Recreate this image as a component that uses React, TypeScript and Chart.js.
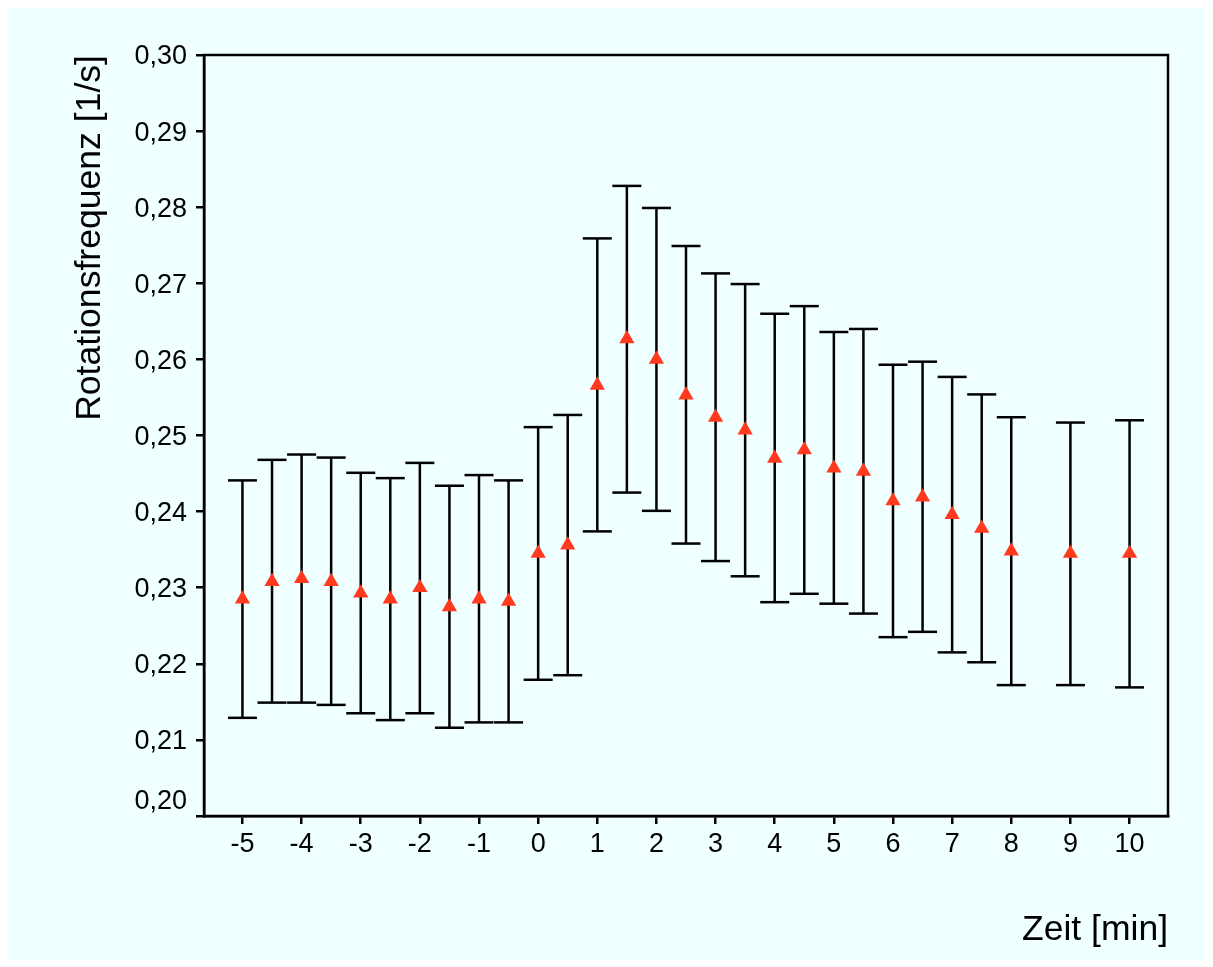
import React, { useEffect, useRef } from 'react';
import { Chart, registerables } from 'chart.js';

Chart.register(...registerables);

// Zeitpunkte [min]
const timePoints = [-5, -4.5, -4, -3.5, -3, -2.5, -2, -1.5, -1, -0.5, 0, 0.5, 1, 1.5, 2, 2.5, 3, 3.5, 4, 4.5, 5, 5.5, 6, 6.5, 7, 7.5, 8, 9, 10];

// Mittelwerte der Rotationsfrequenz [1/s]
const meanValues = [0.2285, 0.2308, 0.2312, 0.2308, 0.2293, 0.2285, 0.2300, 0.2275, 0.2285, 0.2282, 0.2345, 0.2356, 0.2566, 0.2627, 0.2600, 0.2553, 0.2524, 0.2507, 0.2470, 0.2481, 0.2457, 0.2453, 0.2414, 0.2419, 0.2396, 0.2378, 0.2348, 0.2345, 0.2345];

// Obere Fehlerbalken
const upperValues = [0.2441, 0.2468, 0.2475, 0.2471, 0.2451, 0.2444, 0.2464, 0.2434, 0.2448, 0.2441, 0.2511, 0.2527, 0.2759, 0.2828, 0.2799, 0.2749, 0.2713, 0.2699, 0.2660, 0.2670, 0.2636, 0.2640, 0.2593, 0.2597, 0.2577, 0.2554, 0.2524, 0.2517, 0.2520];

// Untere Fehlerbalken
const lowerValues = [0.2129, 0.2149, 0.2149, 0.2146, 0.2135, 0.2126, 0.2135, 0.2116, 0.2123, 0.2123, 0.2179, 0.2185, 0.2374, 0.2425, 0.2401, 0.2358, 0.2335, 0.2315, 0.2281, 0.2292, 0.2279, 0.2266, 0.2235, 0.2242, 0.2215, 0.2202, 0.2172, 0.2172, 0.2169];

const xTickValues = [-5, -4, -3, -2, -1, 0, 1, 2, 3, 4, 5, 6, 7, 8, 9, 10];
const yTickValues = [0.20, 0.21, 0.22, 0.23, 0.24, 0.25, 0.26, 0.27, 0.28, 0.29, 0.30];

const FONT = "'Liberation Sans', Arial, Helvetica, sans-serif";
const BG = '#F0FFFF';
const RED = '#FF3A1E';
const LW = 2.5;

const boxPlugin = {
  id: 'plotBox',
  afterDraw(chart: any) {
    const { ctx, chartArea } = chart;
    ctx.save();
    ctx.strokeStyle = '#000';
    ctx.lineWidth = LW;
    ctx.strokeRect(chartArea.left, chartArea.top, chartArea.right - chartArea.left, chartArea.bottom - chartArea.top);
    ctx.restore();
  },
};

export default function App() {
  const canvasRef = useRef<HTMLCanvasElement | null>(null);

  useEffect(() => {
    if (!canvasRef.current) return;

    const stems = timePoints.flatMap((t, i) => [
      { x: t, y: lowerValues[i] },
      { x: t, y: upperValues[i] },
      { x: t, y: null },
    ]);
    const upperCaps = timePoints.map((t, i) => ({ x: t, y: upperValues[i] }));
    const lowerCaps = timePoints.map((t, i) => ({ x: t, y: lowerValues[i] }));
    const means = timePoints.map((t, i) => ({ x: t, y: meanValues[i] }));

    const chart = new Chart(canvasRef.current, {
      type: 'scatter',
      data: {
        datasets: [
          {
            label: 'Mittelwert',
            data: means,
            pointStyle: 'triangle',
            pointRadius: 8.8,
            pointHoverRadius: 8.8,
            pointBackgroundColor: RED,
            pointBorderColor: RED,
            pointBorderWidth: 0,
            showLine: false,
            order: 0,
          },
          {
            label: 'Fehler',
            data: stems as any,
            showLine: true,
            spanGaps: false,
            borderColor: '#000',
            borderWidth: LW,
            pointRadius: 0,
            pointHoverRadius: 0,
            order: 2,
          },
          {
            label: 'oben',
            data: upperCaps,
            pointStyle: 'line',
            pointRadius: 14.5,
            pointHoverRadius: 14.5,
            pointBorderColor: '#000',
            pointBorderWidth: LW,
            showLine: false,
            order: 1,
          },
          {
            label: 'unten',
            data: lowerCaps,
            pointStyle: 'line',
            pointRadius: 14.5,
            pointHoverRadius: 14.5,
            pointBorderColor: '#000',
            pointBorderWidth: LW,
            showLine: false,
            order: 1,
          },
        ],
      },
      options: {
        animation: false,
        responsive: false,
        events: [],
        layout: { padding: { left: 61, top: 47, right: 37, bottom: 8 } },
        plugins: {
          legend: { display: false },
          tooltip: { enabled: false },
        },
        scales: {
          x: {
            type: 'linear',
            min: -5.65,
            max: 10.65,
            afterBuildTicks: (scale: any) => {
              scale.ticks = xTickValues.map((v) => ({ value: v }));
            },
            afterFit: (scale: any) => {
              scale.height = 136;
            },
            ticks: {
              color: '#000',
              font: { family: FONT, size: 27 },
              padding: 4,
              maxRotation: 0,
              autoSkip: false,
              callback: (v: any) => String(v),
            },
            grid: {
              drawOnChartArea: false,
              drawTicks: true,
              tickLength: 8,
              color: '#000',
              lineWidth: LW,
            },
            border: { display: true, color: '#000', width: LW },
            title: {
              display: true,
              text: 'Zeit [min]',
              align: 'end',
              color: '#000',
              font: { family: FONT, size: 35.5 },
              padding: 0,
            },
          },
          y: {
            type: 'linear',
            min: 0.2,
            max: 0.3,
            afterBuildTicks: (scale: any) => {
              scale.ticks = yTickValues.map((v) => ({ value: v }));
            },
            afterFit: (scale: any) => {
              scale.width = 135;
            },
            ticks: {
              color: '#000',
              font: { family: FONT, size: 27 },
              padding: 9,
              labelOffset: 2,
              autoSkip: false,
              callback: (v: any) => {
                const s = Number(v).toFixed(2).replace('.', ',');
                return Number(v) < 0.2005 ? [s, ''] : s;
              },
            },
            grid: {
              drawOnChartArea: false,
              drawTicks: true,
              tickLength: 8,
              color: '#000',
              lineWidth: LW,
            },
            border: { display: true, color: '#000', width: LW },
            title: {
              display: true,
              text: 'Rotationsfrequenz [1/s]',
              align: 'end',
              color: '#000',
              font: { family: FONT, size: 35.6 },
              padding: 0,
            },
          },
        },
      },
      plugins: [boxPlugin],
    } as any);

    return () => {
      chart.destroy();
    };
  }, []);

  return (
    <div style={{ width: 1197, height: 952, background: BG }}>
      <canvas ref={canvasRef} width={1197} height={952} style={{ display: 'block' }} />
    </div>
  );
}
